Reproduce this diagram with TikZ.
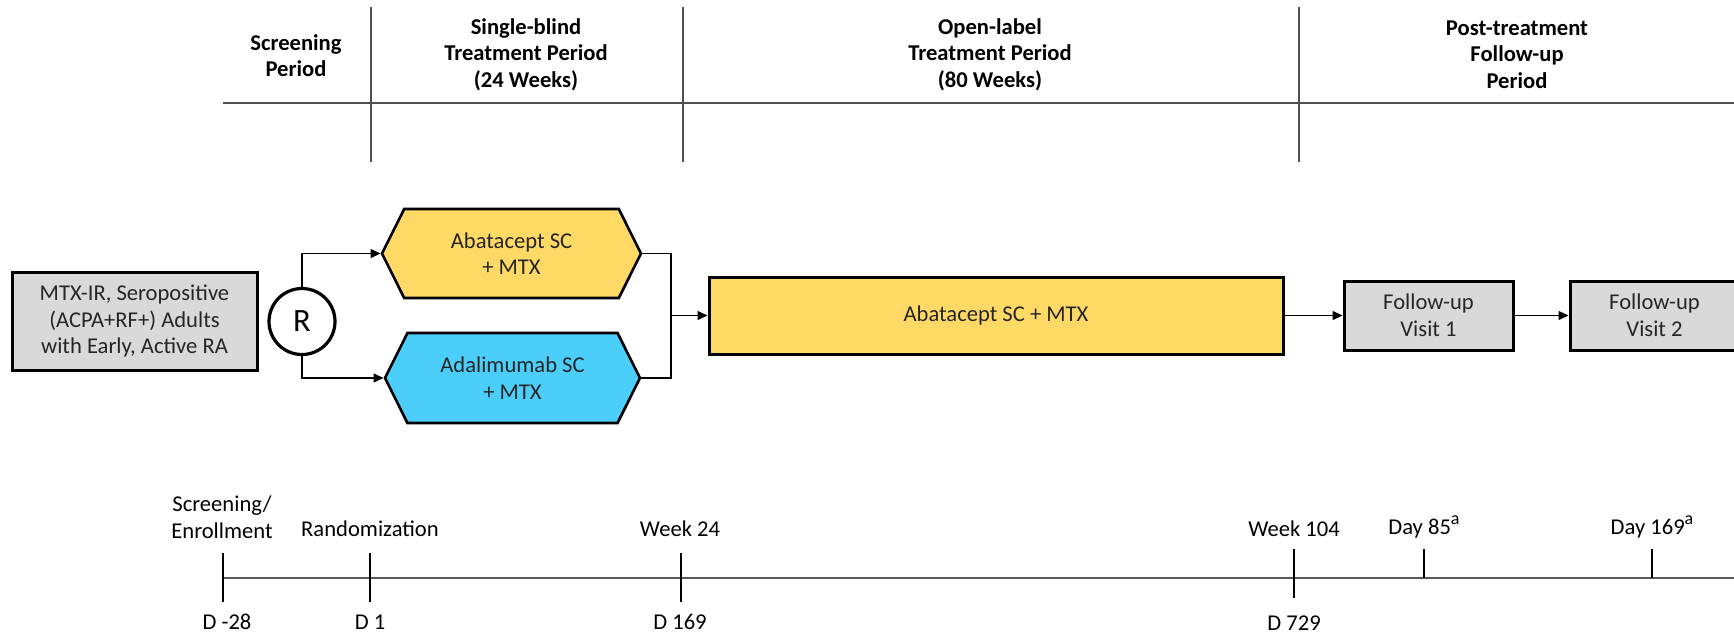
\documentclass[tikz,border=0pt]{standalone}
\usepackage{fontspec}
\setmainfont{Carlito}
\usetikzlibrary{arrows.meta,shapes.symbols}
\definecolor{amarillo}{RGB}{255,217,102}
\definecolor{celeste}{RGB}{75,206,250}
\definecolor{grisclaro}{RGB}{217,217,217}
\definecolor{lineagris}{RGB}{80,80,80}
\newcommand{\notaa}{\raisebox{0.85ex}{\fontsize{9}{9}\selectfont a}}
\begin{document}
\begin{tikzpicture}[x=0.5pt,y=-0.5pt,
            font=\fontsize{11.3}{13.3}\selectfont,
            caja/.style={draw=black,line width=1.5pt,fill=grisclaro,align=center,inner sep=0pt,text=black!85},
            brazo/.style={shape=signal,signal to=west and east,signal pointer angle=127,draw=black,line width=1.3pt,align=center,inner sep=0pt,text=black!85},
            flecha/.style={line width=0.65pt,-{Triangle[length=5pt,width=4.5pt]}},
            periodo/.style={font=\fontsize{11.3}{13.3}\selectfont\bfseries,align=center},
            marca/.style={line width=0.65pt}]
            \useasboundingbox (0,0) rectangle (1734,634);

            % Encabezado de periodos
            \draw[lineagris,line width=1.3pt] (223,103) -- (1734,103);
            \draw[lineagris,line width=0.8pt] (371,7) -- (371,162);
            \draw[lineagris,line width=0.8pt] (683,7) -- (683,162);
            \draw[lineagris,line width=0.8pt] (1299,7) -- (1299,162);
            \node[periodo] (p0) at (296,55.5) {Screening\\Period};
            \node[periodo] (p1) at (526,54.5) {Single-blind\\Treatment Period\\(24 Weeks)};
            \node[periodo] (p2) at (990,54.5) {Open-label\\Treatment Period\\(80 Weeks)};
            \node[periodo] (p3) at (1517,54.5) {Post-treatment\\Follow-up\\Period};

            % Pacientes y aleatorizacion
            \node[caja,minimum width=122.5pt,minimum height=49pt] (pac) at (134.5,321) {MTX-IR, Seropositive\\(ACPA+RF+) Adults\\with Early, Active RA};
            \node[circle,draw=black,line width=1.6pt,minimum size=33pt,inner sep=0pt,font=\fontsize{16.3}{18}\selectfont] (rnd) at (302,321.5) {R};

            % Brazos de tratamiento
            \node[brazo,fill=amarillo,minimum width=129.5pt,minimum height=44.5pt] (abat) at (511.5,253.5) {Abatacept SC\\+ MTX};
            \node[brazo,fill=celeste,minimum width=127.5pt,minimum height=45pt] (adal) at (512.5,378) {Adalimumab SC\\+ MTX};
            \draw[flecha] (rnd.north) |- (abat.west);
            \draw[flecha] (rnd.south) |- (adal.west);

            % Fase abierta y seguimiento
            \coordinate (mrg) at (671,315.5);
            \node[caja,fill=amarillo,minimum width=287pt,minimum height=38.5pt] (ol) at (996,315.5) {Abatacept SC + MTX};
            \node[caja,minimum width=84.5pt,minimum height=34.5pt] (fu1) at (1428.5,315.5) {Follow-up\\Visit 1};
            \node[caja,minimum width=84.5pt,minimum height=34.5pt] (fu2) at (1654.5,315.5) {Follow-up\\Visit 2};
            \draw[line width=0.65pt] (abat.east) -| (mrg) |- (adal.east);
            \draw[flecha] (mrg) -- (ol.west);
            \draw[flecha] (ol.east) -- (fu1.west);
            \draw[flecha] (fu1.east) -- (fu2.west);

            % Linea de tiempo
            \draw[black!65,line width=1.1pt] (223,578) -- (1734,578);
            \draw[marca] (223,553) -- (223,602);
            \draw[marca] (370,553) -- (370,602);
            \draw[marca] (681,553) -- (681,602);
            \draw[marca] (1294,549) -- (1294,598);
            \draw[marca] (1424,549) -- (1424,578);
            \draw[marca] (1652,549) -- (1652,578);

            % Etiquetas de la linea de tiempo
            \node[align=center] (t0) at (222,517) {Screening/\\Enrollment};
            \node (t1) at (370,529) {Randomization};
            \node (t2) at (680,529) {Week 24};
            \node (t3) at (1294,529) {Week 104};
            \node (t4) at (1424,527) {Day 85\notaa};
            \node (t5) at (1652,527) {Day 169\notaa};
            \node (d0) at (227,622) {D -28};
            \node (d1) at (370,622) {D 1};
            \node (d2) at (680,622) {D 169};
            \node[inner sep=1pt] (d3) at (1294,623) {D 729};
\end{tikzpicture}
\end{document}
